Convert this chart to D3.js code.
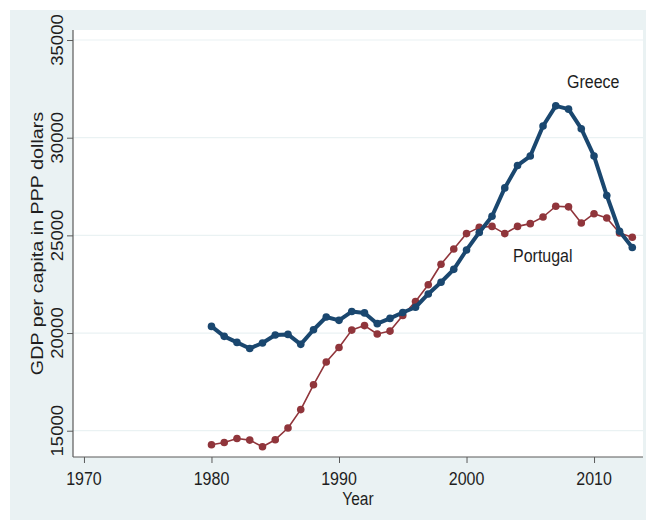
<!DOCTYPE html>
<html>
<head>
<meta charset="utf-8">
<script src="https://cdn.jsdelivr.net/npm/d3@7"></script>
<style>
  body { margin: 0; background: #fff; }
  text { font-family: "Liberation Sans", Arial, sans-serif; fill: #1e1e1e; }
</style>
</head>
<body>
<svg id="chart"></svg>
<script>
const width = 646;
const height = 520;

const years = d3.range(1980, 2014);
const greece = [20340, 19830, 19520, 19210, 19490, 19900, 19930, 19420, 20170, 20820,
  20650, 21100, 21030, 20480, 20750, 21050, 21320, 22000, 22600, 23260,
  24250, 25150, 25980, 27430, 28580, 29060, 30600, 31630, 31460, 30460,
  29060, 27040, 25210, 24380];
const portugal = [14280, 14400, 14600, 14520, 14180, 14540, 15140, 16080, 17350, 18520,
  19260, 20150, 20380, 19950, 20100, 20900, 21610, 22470, 23520, 24300,
  25090, 25410, 25460, 25090, 25460, 25600, 25940, 26490, 26460, 25630,
  26110, 25890, 25120, 24900];
const yTicks = [15000, 20000, 25000, 30000, 35000];
const xTicks = [1970, 1980, 1990, 2000, 2010];

const svg = d3.select("#chart")
  .attr("width", width)
  .attr("height", height);

// outer graph region
svg.append("rect")
  .attr("x", 10).attr("y", 10)
  .attr("width", width - 10).attr("height", height - 10)
  .attr("fill", "#eaf2f3");

const plot = { left: 73, right: 643, top: 30, bottom: 457 };

svg.append("rect")
  .attr("x", plot.left).attr("y", plot.top)
  .attr("width", plot.right - plot.left).attr("height", plot.bottom - plot.top)
  .attr("fill", "#fff");

const x = d3.scaleLinear().domain([1969.14, 2013.84]).range([plot.left, plot.right]);
const y = d3.scaleLinear().domain([13654, 35513]).range([plot.bottom, plot.top]);

// gridlines
svg.append("g")
  .selectAll("line")
  .data(yTicks)
  .enter().append("line")
  .attr("x1", plot.left).attr("x2", plot.right)
  .attr("y1", d => y(d)).attr("y2", d => y(d))
  .attr("stroke", "#eaf2f3")
  .attr("stroke-width", 1.2);

// axes
const yAxis = svg.append("g")
  .attr("transform", `translate(${plot.left},0)`)
  .call(d3.axisLeft(y).tickValues(yTicks).tickSize(6).tickFormat(""));
const xAxis = svg.append("g")
  .attr("transform", `translate(0,${plot.bottom})`)
  .call(d3.axisBottom(x).tickValues(xTicks).tickSize(6).tickFormat(""));

[yAxis, xAxis].forEach(a => {
  a.select(".domain").attr("stroke", "#5a5a5a").attr("stroke-width", 1.2);
  a.selectAll(".tick line").attr("stroke", "#5a5a5a").attr("stroke-width", 1);
});
yAxis.select(".domain").attr("d", `M0,${plot.bottom}V${plot.top}`);
xAxis.select(".domain").attr("d", `M${plot.left},0H${plot.right}`);

// tick labels (the picture is slightly stretched vertically)
const sy = 1.16;
svg.append("g")
  .selectAll("text")
  .data(yTicks)
  .enter().append("text")
  .attr("transform", d => `translate(63,${y(d)}) scale(1,${sy}) rotate(-90)`)
  .attr("text-anchor", "middle")
  .style("font-size", "16px")
  .text(d => d);

svg.append("g")
  .selectAll("text")
  .data(xTicks)
  .enter().append("text")
  .attr("transform", d => `translate(${x(d)},485) scale(1,${sy})`)
  .attr("text-anchor", "middle")
  .style("font-size", "16px")
  .text(d => d);

svg.append("text")
  .attr("transform", `translate(${(plot.left + plot.right) / 2},505) scale(1,${sy})`)
  .attr("text-anchor", "middle")
  .style("font-size", "15.5px")
  .text("Year");

svg.append("text")
  .attr("transform", `translate(43,${(plot.top + plot.bottom) / 2}) scale(1,${sy}) rotate(-90)`)
  .attr("text-anchor", "middle")
  .style("font-size", "17px")
  .text("GDP per capita in PPP dollars");

// series
const series = [
  { name: "Portugal", values: portugal, color: "#90353b", width: 1.6, r: 3.8 },
  { name: "Greece", values: greece, color: "#1a476f", width: 4, r: 3.8 }
];

const line = d3.line()
  .x((d, i) => x(years[i]))
  .y(d => y(d));

series.forEach(s => {
  const g = svg.append("g");
  g.append("path")
    .attr("d", line(s.values))
    .attr("fill", "none")
    .attr("stroke", s.color)
    .attr("stroke-width", s.width)
    .attr("stroke-linejoin", "round");
  g.selectAll("circle")
    .data(s.values)
    .enter().append("circle")
    .attr("cx", (d, i) => x(years[i]))
    .attr("cy", d => y(d))
    .attr("r", s.r)
    .attr("fill", s.color);
});

// labels
svg.append("text")
  .attr("transform", `translate(567,88) scale(1,${sy})`)
  .style("font-size", "16px")
  .text("Greece");

svg.append("text")
  .attr("transform", `translate(513,262) scale(1,${sy})`)
  .style("font-size", "16px")
  .text("Portugal");
</script>
</body>
</html>
